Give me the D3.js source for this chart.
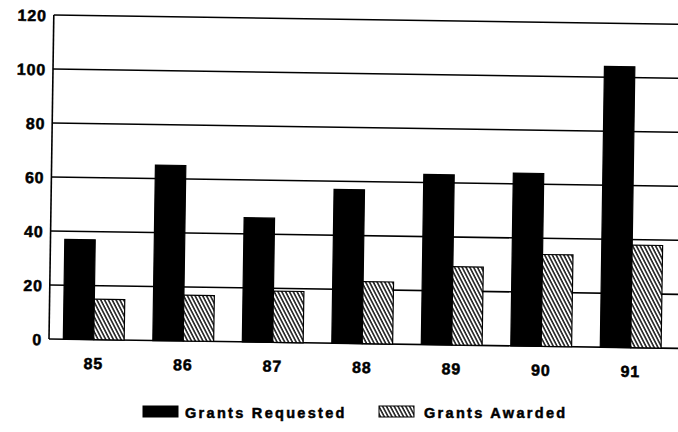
<!DOCTYPE html>
<html>
<head>
<meta charset="utf-8">
<script src="https://cdnjs.cloudflare.com/ajax/libs/d3/7.8.5/d3.min.js"></script>
<style>
    html, body { margin: 0; padding: 0; background: #fff; }
    svg { display: block; }
    text { font-family: "Liberation Sans", Arial, sans-serif; font-weight: bold; fill: #000; stroke: #000; stroke-width: 0.5px; }
</style>
</head>
<body>
<div id="chart"></div>
<script>
(function () {
    "use strict";

    var years = ["85", "86", "87", "88", "89", "90", "91"];
    var requested = [37, 65, 46, 57, 63, 64, 104];
    var awarded = [15, 17, 19, 23, 29, 34, 38];
    var yTicks = [0, 20, 40, 60, 80, 100, 120];
    var seriesNames = ["Grants Requested", "Grants Awarded"];

    var width = 678, height = 432;
    var left = 49, top = 15, bottom = 339, right = 690;

    var svg = d3.select("#chart").append("svg")
        .attr("width", width)
        .attr("height", height);

    // hatch for the awarded bars
    var defs = svg.append("defs");
    defs.append("pattern")
        .attr("id", "hatch")
        .attr("patternUnits", "userSpaceOnUse")
        .attr("width", 3.4)
        .attr("height", 3.4)
        .attr("patternTransform", "rotate(-28)")
        .call(function (p) {
            p.append("rect").attr("width", 3.4).attr("height", 3.4).attr("fill", "#fff");
            p.append("line")
                .attr("x1", 0.9).attr("y1", 0).attr("x2", 0.9).attr("y2", 3.4)
                .attr("stroke", "#000").attr("stroke-width", 1.4);
        });

    // the scan is a bit crooked, so tilt the plot slightly
    var g = svg.append("g").attr("transform", "rotate(0.85," + left + "," + bottom + ")");

    var x = d3.scaleBand().domain(years).range([left, left + 7 * 89.5]).paddingInner(0.32).paddingOuter(0.16);
    var x1 = d3.scaleBand().domain([0, 1]).range([0, x.bandwidth()]);
    var y = d3.scaleLinear().domain([0, 120]).range([bottom, top]);

    // gridlines
    g.append("g").selectAll("line")
        .data(yTicks)
        .enter().append("line")
        .attr("x1", left).attr("x2", right)
        .attr("y1", function (d) { return y(d); })
        .attr("y2", function (d) { return y(d); })
        .attr("stroke", "#000")
        .attr("stroke-width", 1.6);

    g.append("line")
        .attr("x1", left).attr("x2", left)
        .attr("y1", top).attr("y2", bottom)
        .attr("stroke", "#000")
        .attr("stroke-width", 1.6);

    var yAxis = d3.axisLeft(y).tickValues(yTicks).tickSize(0).tickPadding(7);
    g.append("g")
        .attr("transform", "translate(" + left + ",0)")
        .call(yAxis)
        .call(function (a) { a.select(".domain").remove(); })
        .selectAll("text")
        .attr("font-family", "Liberation Sans, Arial, sans-serif")
        .attr("font-size", 16)
        .attr("font-weight", "bold")
        .attr("dy", "0.36em")
        .attr("letter-spacing", 0.8);

    var xAxis = d3.axisBottom(x).tickSize(0).tickPadding(18);
    g.append("g")
        .attr("transform", "translate(0," + bottom + ")")
        .call(xAxis)
        .call(function (a) { a.select(".domain").remove(); })
        .selectAll("text")
        .attr("font-family", "Liberation Sans, Arial, sans-serif")
        .attr("font-size", 16)
        .attr("font-weight", "bold")
        .attr("letter-spacing", 0.8);

    // bars
    var rows = years.map(function (yr, i) {
        return { year: yr, values: [requested[i], awarded[i]] };
    });

    var groups = g.append("g").selectAll(".group")
        .data(rows)
        .enter().append("g")
        .attr("class", "group")
        .attr("transform", function (d) { return "translate(" + x(d.year) + ",0)"; });

    groups.selectAll("rect")
        .data(function (d) { return d.values; })
        .enter().append("rect")
        .attr("x", function (d, i) { return x1(i); })
        .attr("y", function (d) { return y(d); })
        .attr("width", x1.bandwidth())
        .attr("height", function (d) { return bottom - y(d); })
        .attr("fill", function (d, i) { return i === 0 ? "#000" : "url(#hatch)"; })
        .attr("stroke", "#000")
        .attr("stroke-width", 1.2);

    // legend (not tilted)
    var legendPos = [{ x: 143, y: 406, tx: 185 }, { x: 379, y: 406, tx: 424 }];
    var legend = svg.append("g").selectAll(".legend")
        .data(seriesNames)
        .enter().append("g")
        .attr("class", "legend");

    legend.append("rect")
        .attr("x", function (d, i) { return legendPos[i].x; })
        .attr("y", function (d, i) { return legendPos[i].y; })
        .attr("width", 35)
        .attr("height", 11)
        .attr("fill", function (d, i) { return i === 0 ? "#000" : "url(#hatch)"; })
        .attr("stroke", "#000")
        .attr("stroke-width", 1);

    legend.append("text")
        .attr("x", function (d, i) { return legendPos[i].tx; })
        .attr("y", function (d, i) { return legendPos[i].y + 11.5; })
        .attr("font-size", 14.5)
        .attr("letter-spacing", 2.3)
        .text(function (d) { return d; });
}());
</script>
</body>
</html>
